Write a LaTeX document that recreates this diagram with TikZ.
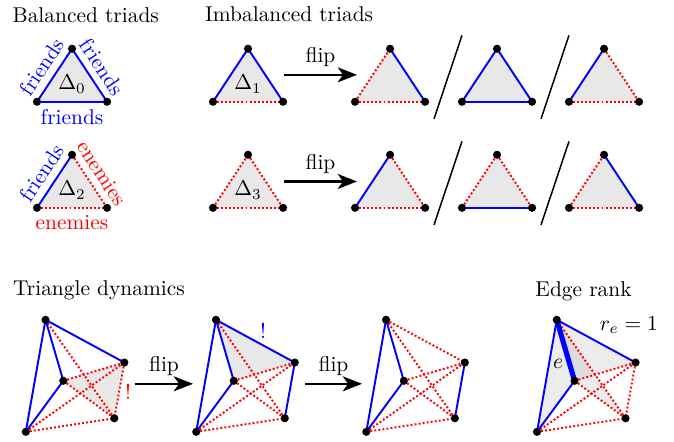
\documentclass[tikz,border=0pt]{standalone}
\usetikzlibrary{arrows.meta}

\tikzset{
  friend/.style={blue, line width=0.9pt},
  enemy/.style={red, line width=0.9pt, densely dotted},
  triface/.style={fill=gray!18},
  fliparrow/.style={-{Stealth[length=9pt, width=7pt, inset=2.5pt]}, line width=1pt},
  heading/.style={anchor=base west, inner sep=0pt},
}

% triad: name, x, y, left edge, right edge, bottom edge
\newcommand{\triad}[6]{%
  \coordinate (#1l) at (#2,#3);
  \coordinate (#1t) at (#2+0.575,#3+0.87);
  \coordinate (#1r) at (#2+1.15,#3);
  \fill[triface] (#1l) -- (#1t) -- (#1r) -- cycle;
  \draw[#4] (#1l) -- (#1t);
  \draw[#5] (#1t) -- (#1r);
  \draw[#6] (#1l) -- (#1r);
  \foreach \v in {l,t,r} \fill (#1\v) circle (1.9pt);
}

\begin{document}
\begin{tikzpicture}

\useasboundingbox (0,0) rectangle (11.06,7.25);

% Headings
\node[heading] (hbal) at (0.20,6.88) {Balanced triads};
\node[heading] (himb) at (3.36,6.89) {Imbalanced triads};
\node[heading] (hdyn) at (0.21,2.40) {Triangle dynamics};
\node[heading] (hrank) at (8.78,2.38) {Edge rank};

% Balanced triads
\triad{d0}{0.607}{5.58}{friend}{friend}{friend}
\node (lab0) at (0.607+0.575,5.58+0.29) {$\Delta_0$};
\path (d0l) -- node[sloped, above, blue] (f0a) {friends} (d0t);
\path (d0t) -- node[sloped, above, blue] (f0b) {friends} (d0r);
\path (d0l) -- node[below, blue] (f0c) {friends} (d0r);

\triad{d2}{0.607}{3.84}{friend}{enemy}{enemy}
\node (lab2) at (0.607+0.575,3.84+0.29) {$\Delta_2$};
\path (d2l) -- node[sloped, above, blue] (f2a) {friends} (d2t);
\path (d2t) -- node[sloped, above, red] (e2b) {enemies} (d2r);
\path (d2l) -- node[below, red] (e2c) {enemies} (d2r);

% Imbalanced triads, first row
\triad{d1}{3.495}{5.58}{friend}{friend}{enemy}
\node (lab1) at (3.495+0.575,5.58+0.29) {$\Delta_1$};
\triad{a1}{5.826}{5.58}{enemy}{friend}{enemy}
\triad{a2}{7.581}{5.58}{friend}{friend}{friend}
\triad{a3}{9.337}{5.58}{friend}{enemy}{enemy}

% Imbalanced triads, second row
\triad{d3}{3.495}{3.84}{enemy}{enemy}{enemy}
\node (lab3) at (3.495+0.575,3.84+0.29) {$\Delta_3$};
\triad{b1}{5.826}{3.84}{friend}{enemy}{enemy}
\triad{b2}{7.581}{3.84}{enemy}{enemy}{friend}
\triad{b3}{9.337}{3.84}{enemy}{friend}{enemy}

% Flip arrows
\coordinate (r1s) at (4.66,6.022);
\coordinate (r1e) at (5.858,6.022);
\draw[fliparrow] (r1s) -- node[above] (fl1) {flip} (r1e);
\coordinate (r2s) at (4.66,4.272);
\coordinate (r2e) at (5.858,4.272);
\draw[fliparrow] (r2s) -- node[above] (fl2) {flip} (r2e);

% Separators
\foreach \x in {7.122, 8.878}
  \foreach \y in {5.30, 3.56}
    \draw[line width=0.7pt] (\x,\y) -- ++(0.459,1.37);

% Five-node graphs
\foreach \g/\dx in {1/0, 2/2.797, 3/5.588, 4/8.389} {
  \coordinate (A\g) at (0.747+\dx,2.002);
  \coordinate (B\g) at (2.040+\dx,1.301);
  \coordinate (C\g) at (1.039+\dx,1.001);
  \coordinate (D\g) at (1.876+\dx,0.386);
  \coordinate (E\g) at (0.423+\dx,0.164);
}

% Shaded triangles
\fill[triface] (C1) -- (B1) -- (D1) -- cycle;
\fill[triface] (A2) -- (B2) -- (C2) -- cycle;
\fill[gray, fill opacity=0.15] (A4) -- (C4) -- (E4) -- cycle;
\fill[gray, fill opacity=0.15] (A4) -- (C4) -- (B4) -- cycle;
\fill[gray, fill opacity=0.15] (A4) -- (C4) -- (D4) -- cycle;

% Edges shared by all graphs
\foreach \g in {1,...,4} {
  \draw[enemy] (A\g) -- (D\g);
  \draw[enemy] (C\g) -- (B\g);
  \draw[enemy] (C\g) -- (D\g);
  \draw[enemy] (E\g) -- (B\g);
  \draw[enemy] (E\g) -- (D\g);
  \draw[friend] (A\g) -- (C\g);
  \draw[friend] (A\g) -- (E\g);
  \draw[friend] (C\g) -- (E\g);
}

% Edges that change
\draw[friend] (A1) -- (B1);
\draw[enemy] (B1) -- (D1);
\draw[friend] (A2) -- (B2);
\draw[friend] (B2) -- (D2);
\draw[enemy] (A3) -- (B3);
\draw[friend] (B3) -- (D3);
\draw[friend] (A4) -- (B4);
\draw[enemy] (B4) -- (D4);
\draw[blue, line width=2.4pt] (A4) -- (C4);

\foreach \g in {1,...,4}
  \foreach \v in {A,B,C,D,E}
    \fill (\v\g) circle (1.9pt);

% Marks
\node[red] (ex1) at (2.10,0.82) {!};
\node[blue] (ex2) at (4.316,1.822) {!};
\node (re) at (10.32,1.92) {$r_e = 1$};
\node (el) at (9.157,1.28) {$e$};

% Flip arrows below
\coordinate (g1s) at (2.215,0.952);
\coordinate (g1e) at (3.167,0.952);
\draw[fliparrow] (g1s) -- node[above] (fl3) {flip} (g1e);
\coordinate (g2s) at (5.005,0.952);
\coordinate (g2e) at (5.94,0.952);
\draw[fliparrow] (g2s) -- node[above] (fl4) {flip} (g2e);

\end{tikzpicture}
\end{document}
